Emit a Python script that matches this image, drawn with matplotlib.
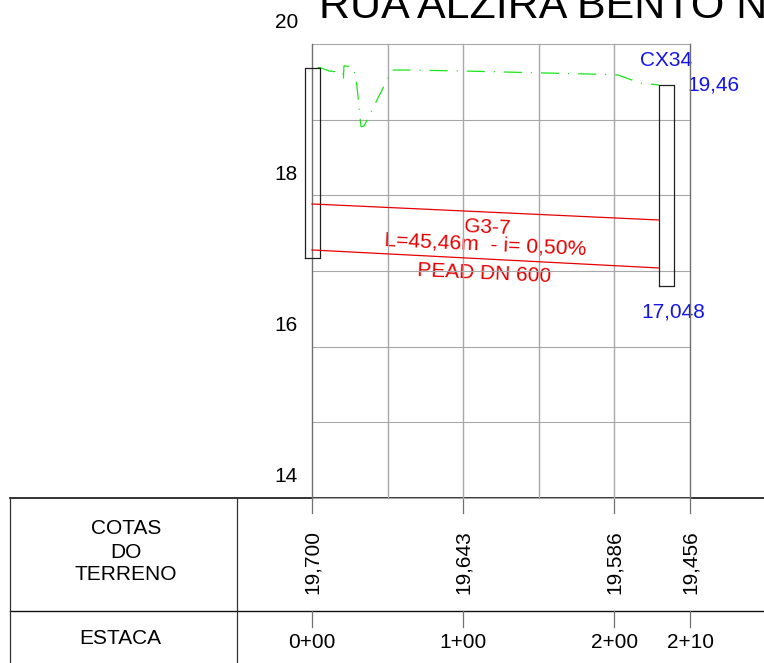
import matplotlib
matplotlib.use("Agg")
import matplotlib.pyplot as plt
from matplotlib.transforms import blended_transform_factory as blend

plt.rcParams['font.family'] = ['Liberation Sans', 'DejaVu Sans']

W, H = 764, 663
title = "RUA ALZIRA BENTO N"
grid_x = [0, 10, 20, 30, 40, 50]
grid_y = [14, 15, 16, 17, 18, 19, 20]
y_labels = [14, 16, 18, 20]
terrain_x = [0, 1.06, 2.25, 4.1, 4.14, 4.23, 5.42, 5.82, 6.48, 6.88, 9.52, 10.58, 12.96, 20, 40, 40.48, 43.39, 45.9]
terrain_y = [19.683, 19.689, 19.643, 19.623, 19.511, 19.713, 19.696, 19.564, 18.907, 18.916, 19.445, 19.656, 19.656, 19.643, 19.595, 19.59, 19.485, 19.458]
pipe_x = [0, 45.9]
pipe_top = [17.886, 17.674]
pipe_bottom = [17.278, 17.04]
well_left = [-0.93, 1.06, 17.172, 19.683]
well_right = [45.9, 47.9, 16.80, 19.458]
stations = [0, 20, 40, 50]
station_labels = ["0+00", "1+00", "2+00", "2+10"]
ground_labels = ["19,700", "19,643", "19,586", "19,456"]

RED = "#e60000"
BLUE = "#1414e6"
GREEN = "#19e619"
GRAY = "#a8a8a8"
DARK = "#707070"
FS = 15

fig = plt.figure(figsize=(W / 100, H / 100), dpi=100)
tab = fig.add_axes([0, 0, 1, 1])
tab.set_xlim(0, W)
tab.set_ylim(H, 0)
tab.axis("off")

ax = fig.add_axes([312 / W, 1 - 498 / H, 378 / W, 454 / H])
ax.set_xlim(0, 50)
ax.set_ylim(14, 20)
ax.axis("off")
ax.patch.set_alpha(0)

for g in grid_y:
    ax.plot([0, 50], [g, g], color=GRAY, lw=0.8, clip_on=False, zorder=1)
for g in grid_x:
    ax.plot([g, g], [14, 20], color=DARK if g in (0, 50) else GRAY,
            lw=1.0, clip_on=False, zorder=1)

for v in y_labels:
    ax.annotate(str(v), (0, v), xytext=(-10, 15.2), textcoords="offset points",
                ha="right", va="center", fontsize=FS, color="black", annotation_clip=False)

ax.plot(terrain_x, terrain_y, color=GREEN, lw=0.9, clip_on=False, zorder=3,
        linestyle=(25.2, (14.4, 7.2, 0.9, 7.2)))
for x0, x1, y0, y1 in (well_left, well_right):
    ax.plot([x0, x1, x1, x0, x0], [y0, y0, y1, y1, y0], color="#202020", lw=0.9,
            clip_on=False, zorder=4)
for ys in (pipe_top, pipe_bottom):
    ax.plot(pipe_x, ys, color=RED, lw=0.9, clip_on=False, zorder=5)


def data_text(s, px, py, color, rot=0, fs=FS):
    tab.text(px, py, s, color=color, fontsize=fs, ha="center", va="center",
             rotation=rot, rotation_mode="anchor", zorder=6)


data_text("G3-7", 487, 228, RED, -2.6)
data_text("L=45,46m  - i= 0,50%", 485.5, 245, RED, -2.6, 15.2)
data_text("PEAD DN 600", 484, 274, RED, -2.6)
data_text("CX34", 666, 60, BLUE)
data_text("19,46", 713, 85, BLUE)
data_text("17,048", 673, 312, BLUE)

fig.text(319 / W, 1 - 18.5 / H, title, fontsize=31, ha="left", va="baseline", color="black")

tab.plot([10, W], [498, 498], color="#101010", lw=1.2, zorder=2)
tab.plot([10, W], [611, 611], color="#101010", lw=1.0, zorder=2)
tab.plot([10, 10], [498, H], color="#303030", lw=0.9, zorder=2)
tab.plot([237, 237], [498, H], color="#303030", lw=0.9, zorder=2)
data_text("COTAS", 126, 529, "black")
data_text("DO", 126, 552, "black")
data_text("TERRENO", 126, 574, "black")
data_text("ESTACA", 120, 638, "black")

tr = blend(ax.transData, tab.transData)
for st, s_lab, g_lab in zip(stations, station_labels, ground_labels):
    tab.plot([st, st], [498, 513], color=DARK, lw=0.9, transform=tr, zorder=2)
    tab.plot([st, st], [611, 627], color=DARK, lw=0.9, transform=tr, zorder=2)
    tab.text(st, 562, g_lab, transform=tr, rotation=90, ha="center", va="center",
             fontsize=FS, color="black")
    tab.text(st, 642, s_lab, transform=tr, ha="center", va="center",
             fontsize=FS, color="black")

fig.savefig("out.png", dpi=100)
